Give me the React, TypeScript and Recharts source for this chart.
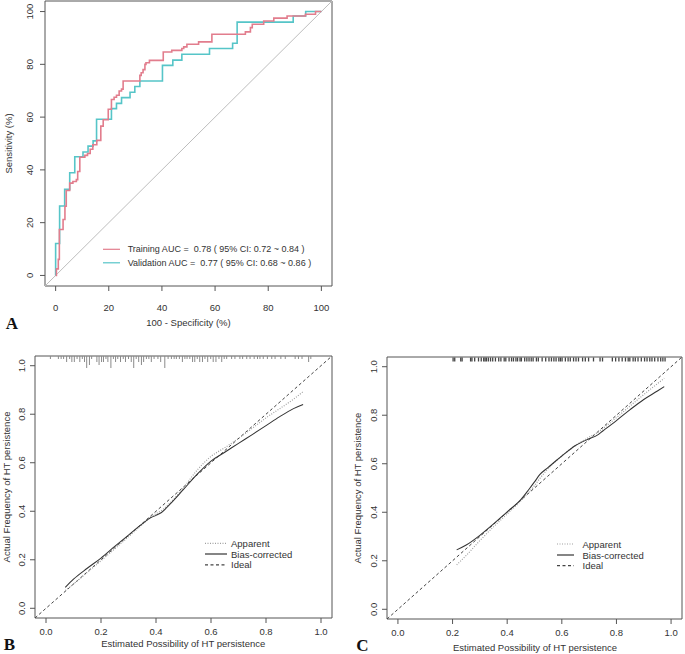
import React from 'react';
import { ComposedChart, Line, XAxis, YAxis, Scatter, ReferenceArea } from 'recharts';

const FONT = "'Liberation Sans', Arial, Helvetica, sans-serif";
const SERIF = "'Liberation Serif', 'Times New Roman', serif";

// ---------- Panel A: ROC ----------
const rocTicks = [0, 20, 40, 60, 80, 100];
const rocDomain = [-4, 104];
const trainFpr = [0, 0.3, 1.0, 1.4, 2.8, 3.5, 4.0, 5.3, 6.5, 7.8, 8.3, 9.1, 11.0, 12.0, 13.0, 14.0, 15.5, 17.0, 17.9, 19.8, 21.0, 22.0, 22.9, 23.9, 24.8, 25.4, 31.7, 32.2, 32.9, 33.6, 34.0, 35.3, 40.5, 43.7, 47.5, 48.2, 49.4, 53.8, 58.8, 71.4, 73.3, 74.0, 78.3, 82.1, 87.1, 94.0, 97.8, 100];
const trainTpr = [0, 2.5, 6.1, 17.4, 21.2, 26.2, 32.2, 35.0, 35.6, 36.3, 39.4, 44.8, 45.5, 46.2, 47.8, 49.5, 51.2, 56.6, 59.0, 63.0, 66.7, 67.5, 68.3, 69.9, 70.6, 73.7, 75.8, 76.8, 78.0, 80.0, 80.6, 81.5, 84.7, 85.3, 86.0, 86.6, 87.6, 88.5, 91.4, 92.3, 93.9, 95.2, 96.4, 97.5, 98.3, 99.0, 100, 100];
const validFpr = [0, 0, 1.5, 3.4, 5.3, 7.2, 10.3, 12.2, 14.1, 15.4, 21.0, 22.9, 24.8, 28.0, 29.8, 31.7, 40.2, 44.1, 47.5, 57.9, 66.6, 68.3, 89.4, 94.1, 100];
const validTpr = [0, 12.1, 26.3, 32.6, 38.9, 45.0, 46.8, 49.0, 51.0, 59.2, 63.2, 65.2, 67.4, 69.4, 71.6, 73.7, 79.6, 81.6, 83.8, 86.0, 88.0, 96.0, 98.3, 100, 100];
const chanceLine = [-4, 104];
const legendA = [
  'Training AUC =  0.78 ( 95% CI: 0.72 ~ 0.84 )',
  'Validation AUC =  0.77 ( 95% CI: 0.68 ~ 0.86 )',
];

// ---------- Panels B & C: calibration ----------
const calTicks = [0, 0.2, 0.4, 0.6, 0.8, 1.0];
const calDomain = [-0.04, 1.04];
const idealLine = [-0.04, 1.04];

const calBx = [0.07, 0.1, 0.15, 0.2, 0.25, 0.3, 0.35, 0.38, 0.4, 0.42, 0.45, 0.5, 0.55, 0.6, 0.65, 0.7, 0.75, 0.8, 0.85, 0.9, 0.935];
const calBApparent = [0.073, 0.1, 0.148, 0.196, 0.245, 0.295, 0.345, 0.375, 0.39, 0.403, 0.433, 0.497, 0.57, 0.626, 0.662, 0.7, 0.742, 0.785, 0.823, 0.862, 0.893];
const calBBias = [0.086, 0.12, 0.165, 0.207, 0.255, 0.302, 0.348, 0.373, 0.383, 0.395, 0.428, 0.49, 0.553, 0.607, 0.643, 0.68, 0.716, 0.753, 0.79, 0.823, 0.84];

const calCx = [0.215, 0.25, 0.3, 0.35, 0.4, 0.45, 0.48, 0.5, 0.52, 0.55, 0.6, 0.65, 0.7, 0.73, 0.75, 0.8, 0.85, 0.9, 0.95, 0.975];
const calCApparent = [0.183, 0.222, 0.283, 0.34, 0.393, 0.447, 0.483, 0.51, 0.54, 0.58, 0.632, 0.675, 0.71, 0.728, 0.745, 0.79, 0.838, 0.885, 0.93, 0.952];
const calCBias = [0.245, 0.265, 0.305, 0.352, 0.402, 0.452, 0.495, 0.525, 0.556, 0.585, 0.632, 0.675, 0.703, 0.718, 0.735, 0.778, 0.823, 0.865, 0.9, 0.918];

// rug (distribution of predicted values) along the top
const rugBx = [0.016, 0.045, 0.055, 0.064, 0.075, 0.086, 0.094, 0.103, 0.113, 0.123, 0.132, 0.14, 0.148, 0.158, 0.166, 0.185, 0.193, 0.202, 0.209, 0.218, 0.225, 0.236, 0.245, 0.253, 0.261, 0.271, 0.281, 0.289, 0.3, 0.31, 0.319, 0.328, 0.337, 0.347, 0.355, 0.365, 0.374, 0.383, 0.393, 0.407, 0.417, 0.432, 0.444, 0.456, 0.466, 0.474, 0.485, 0.496, 0.505, 0.513, 0.523, 0.533, 0.541, 0.55, 0.559, 0.569, 0.578, 0.588, 0.599, 0.608, 0.618, 0.629, 0.639, 0.648, 0.657, 0.675, 0.687, 0.705, 0.715, 0.73, 0.742, 0.757, 0.769, 0.778, 0.79, 0.805, 0.821, 0.833, 0.854, 0.87, 0.906, 0.918, 0.931, 0.955, 0.963];
const rugBn = [1, 1, 1, 1, 2, 1, 2, 2, 1, 2, 1, 2, 4, 3, 1, 2, 3, 2, 2, 1, 2, 4, 1, 2, 1, 2, 1, 2, 1, 2, 4, 1, 2, 3, 2, 1, 1, 2, 1, 1, 2, 4, 1, 1, 1, 1, 1, 2, 1, 1, 1, 2, 2, 1, 2, 2, 1, 2, 1, 2, 2, 1, 2, 1, 1, 1, 1, 1, 1, 1, 1, 1, 1, 1, 1, 1, 1, 1, 1, 1, 1, 1, 1, 2, 1];
const rugCx = [0.202, 0.208, 0.23, 0.235, 0.266, 0.271, 0.281, 0.295, 0.305, 0.314, 0.319, 0.324, 0.331, 0.339, 0.347, 0.357, 0.369, 0.377, 0.389, 0.395, 0.407, 0.416, 0.423, 0.432, 0.438, 0.447, 0.452, 0.464, 0.472, 0.48, 0.488, 0.495, 0.507, 0.514, 0.528, 0.541, 0.553, 0.562, 0.571, 0.579, 0.589, 0.595, 0.601, 0.613, 0.623, 0.631, 0.643, 0.652, 0.661, 0.676, 0.686, 0.698, 0.716, 0.74, 0.749, 0.785, 0.797, 0.809, 0.821, 0.833, 0.843, 0.849, 0.861, 0.869, 0.879, 0.891, 0.903, 0.912, 0.922, 0.93, 0.94, 0.952, 0.962, 0.97, 0.978];

const legendCal = ['Apparent', 'Bias-corrected', 'Ideal'];

// ---------- helpers ----------
const zip = (xs: number[], ys: number[]) => xs.map((x, i) => ({ x, y: ys[i] }));
const trainData = zip(trainFpr, trainTpr);
const validData = zip(validFpr, validTpr);
const chanceData = zip(chanceLine, chanceLine);
const idealData = zip(idealLine, idealLine);
const bApp = zip(calBx, calBApparent);
const bBias = zip(calBx, calBBias);
const cApp = zip(calCx, calCApparent);
const cBias = zip(calCx, calCBias);
const rugB = rugBx.map((x, i) => ({ x, y: calDomain[1], n: rugBn[i] }));
const rugC = rugCx.map((x) => ({ x, y: calDomain[1], n: 1 }));

const PINK = '#E27D8D';
const CYAN = '#56C5C8';
const BOX = '#555';
const TXT = '#333';

const XTick = (props: any) => {
  const { x, y, payload, dy, fmt } = props;
  return (
    <text x={x} y={y + dy} textAnchor="middle" dominantBaseline="central" fontSize={9.5} fill={TXT} fontFamily={FONT}>
      {fmt(payload.value)}
    </text>
  );
};
const YTick = (props: any) => {
  const { x, y, payload, dx, fmt } = props;
  const tx = x + dx;
  return (
    <text x={tx} y={y} transform={`rotate(-90 ${tx} ${y})`} textAnchor="middle" dominantBaseline="central" fontSize={9.5} fill={TXT} fontFamily={FONT}>
      {fmt(payload.value)}
    </text>
  );
};

const fmtInt = (v: number) => String(v);
const fmt1 = (v: number) => v.toFixed(1);

const RugShape = (props: any) => {
  const { cx, cy, payload, unit, color, base, sw } = props;
  if (cx == null || cy == null) return <g />;
  return <line x1={cx} x2={cx} y1={cy + base} y2={cy + base + payload.n * unit} stroke={color} strokeWidth={sw} />;
};

function CalChart(props: any) {
  const { app, bias, rug, rugUnit, rugColor, rugBase, rugW, yAxisW, mTop, mRight, xH, xDy, yDx, w, h } = props;
  return (
    <ComposedChart width={w} height={h} margin={{ top: mTop, right: mRight, bottom: 0, left: 0 }}>
      <XAxis type="number" dataKey="x" domain={calDomain} ticks={calTicks} allowDataOverflow interval={0} axisLine={false} tickSize={5} tickMargin={0} tickLine={{ stroke: BOX }} height={xH} tick={(p: any) => <XTick {...p} dy={xDy} fmt={fmt1} />} />
      <YAxis type="number" dataKey="y" domain={calDomain} ticks={calTicks} allowDataOverflow interval={0} axisLine={false} tickSize={5} tickMargin={0} tickLine={{ stroke: BOX }} width={yAxisW} tick={(p: any) => <YTick {...p} dx={yDx} fmt={fmt1} />} />
      <ReferenceArea x1={calDomain[0]} x2={calDomain[1]} y1={calDomain[0]} y2={calDomain[1]} fill="none" stroke={BOX} strokeWidth={1} fillOpacity={0} />
      <Line data={idealData} dataKey="y" type="linear" stroke="#444" strokeWidth={1} strokeDasharray="3 2.5" dot={false} activeDot={false} isAnimationActive={false} />
      <Line data={app} dataKey="y" type="monotone" stroke="#a0a0a0" strokeWidth={1.2} strokeDasharray="1 1.5" dot={false} activeDot={false} isAnimationActive={false} />
      <Line data={bias} dataKey="y" type="monotone" stroke="#333" strokeWidth={1.05} dot={false} activeDot={false} isAnimationActive={false} />
      <Scatter data={rug} dataKey="y" isAnimationActive={false} shape={(p: any) => <RugShape {...p} unit={rugUnit} color={rugColor} base={rugBase} sw={rugW} />} />
    </ComposedChart>
  );
}

function CalLegend({ x0, x1, tx, ys }: { x0: number; x1: number; tx: number; ys: number[] }) {
  const styles = [
    { stroke: '#a0a0a0', dash: '1 1.5' },
    { stroke: '#333', dash: undefined },
    { stroke: '#444', dash: '3 2.5' },
  ];
  return (
    <g>
      {legendCal.map((t, i) => (
        <g key={t}>
          <line x1={x0} x2={x1} y1={ys[i]} y2={ys[i]} stroke={styles[i].stroke} strokeWidth={1.2} strokeDasharray={styles[i].dash} />
          <text x={tx} y={ys[i]} dominantBaseline="central" fontSize={9.5} fill={TXT} fontFamily={FONT}>{t}</text>
        </g>
      ))}
    </g>
  );
}

export default function App() {
  return (
    <div style={{ position: 'absolute', left: 0, top: 0, width: 685, height: 654, background: '#fff', overflow: 'hidden' }}>
      {/* Panel A */}
      <div style={{ position: 'absolute', left: 0, top: 0 }}>
        <ComposedChart width={340} height={335} margin={{ top: 1, right: 8, bottom: 0, left: 0 }}>
          <XAxis type="number" dataKey="x" domain={rocDomain} ticks={rocTicks} allowDataOverflow interval={0} axisLine={false} tickSize={5} tickMargin={0} tickLine={{ stroke: BOX }} height={49} tick={(p: any) => <XTick {...p} dy={16.5} fmt={fmtInt} />} />
          <YAxis type="number" dataKey="y" domain={rocDomain} ticks={rocTicks} allowDataOverflow interval={0} axisLine={false} tickSize={5} tickMargin={0} tickLine={{ stroke: BOX }} width={45} tick={(p: any) => <YTick {...p} dx={-10.7} fmt={fmtInt} />} />
          <ReferenceArea x1={rocDomain[0]} x2={rocDomain[1]} y1={rocDomain[0]} y2={rocDomain[1]} fill="none" stroke={BOX} strokeWidth={1} fillOpacity={0} />
          <Line data={chanceData} dataKey="y" type="linear" stroke="#bdbdbd" strokeWidth={1} dot={false} activeDot={false} isAnimationActive={false} />
          <Line data={validData} dataKey="y" type="stepAfter" stroke={CYAN} strokeWidth={1.6} dot={false} activeDot={false} isAnimationActive={false} />
          <Line data={trainData} dataKey="y" type="stepAfter" stroke={PINK} strokeWidth={1.6} dot={false} activeDot={false} isAnimationActive={false} />
        </ComposedChart>
      </div>
      {/* Panel B */}
      <div style={{ position: 'absolute', left: 0, top: 330 }}>
        <CalChart w={340} h={324} app={bApp} bias={bBias} rug={rugB} rugUnit={3} rugColor="#8a8a8a" rugBase={0} rugW={1} yAxisW={35} mTop={26} mRight={8} xH={36} xDy={8} yDx={-8.3} />
      </div>
      {/* Panel C */}
      <div style={{ position: 'absolute', left: 345, top: 330 }}>
        <CalChart w={340} h={324} app={cApp} bias={cBias} rug={rugC} rugUnit={4} rugColor="#444" rugBase={0.5} rugW={1.3} yAxisW={42} mTop={27} mRight={3} xH={35} xDy={8} yDx={-8.7} />
      </div>
      {/* Titles, legends and panel letters */}
      <svg width={685} height={654} style={{ position: 'absolute', left: 0, top: 0, pointerEvents: 'none' }}>
        <text x={8} y={143.5} transform="rotate(-90 8 143.5)" textAnchor="middle" dominantBaseline="central" fontSize={9.5} fill={TXT} fontFamily={FONT}>Sensitivity (%)</text>
        <text x={188.5} y={322.5} textAnchor="middle" dominantBaseline="central" fontSize={9.5} fill={TXT} fontFamily={FONT}>100 - Specificity (%)</text>
        <text x={12} y={323} textAnchor="middle" dominantBaseline="central" fontSize={17} fontWeight="bold" fill="#111" fontFamily={SERIF}>A</text>
        {legendA.map((t, i) => (
          <g key={t}>
            <line x1={103} x2={120} y1={249.3 + i * 13.5} y2={249.3 + i * 13.5} stroke={i === 0 ? PINK : CYAN} strokeWidth={1.2} />
            <text x={127.7} y={249.3 + i * 13.5} dominantBaseline="central" fontSize={9} fill={TXT} fontFamily={FONT} style={{ whiteSpace: 'pre' }}>{t}</text>
          </g>
        ))}

        <text x={6} y={487} transform="rotate(-90 6 487)" textAnchor="middle" dominantBaseline="central" fontSize={9.5} fill={TXT} fontFamily={FONT}>Actual Frequency of HT persistence</text>
        <text x={183.3} y={643} textAnchor="middle" dominantBaseline="central" fontSize={9.5} fill={TXT} fontFamily={FONT}>Estimated Possibility of HT persistence</text>
        <text x={9.5} y={644} textAnchor="middle" dominantBaseline="central" fontSize={17} fontWeight="bold" fill="#111" fontFamily={SERIF}>B</text>
        <CalLegend x0={205} x1={227} tx={231} ys={[543.3, 554, 564.8]} />

        <text x={357.7} y={488} transform="rotate(-90 357.7 488)" textAnchor="middle" dominantBaseline="central" fontSize={9.5} fill={TXT} fontFamily={FONT}>Actual Frequency of HT persistence</text>
        <text x={535} y={647.7} textAnchor="middle" dominantBaseline="central" fontSize={9.5} fill={TXT} fontFamily={FONT}>Estimated Possibility of HT persistence</text>
        <text x={362.5} y={645} textAnchor="middle" dominantBaseline="central" fontSize={17} fontWeight="bold" fill="#111" fontFamily={SERIF}>C</text>
        <CalLegend x0={557} x1={574} tx={582.5} ys={[544, 555, 565.7]} />
      </svg>
    </div>
  );
}
